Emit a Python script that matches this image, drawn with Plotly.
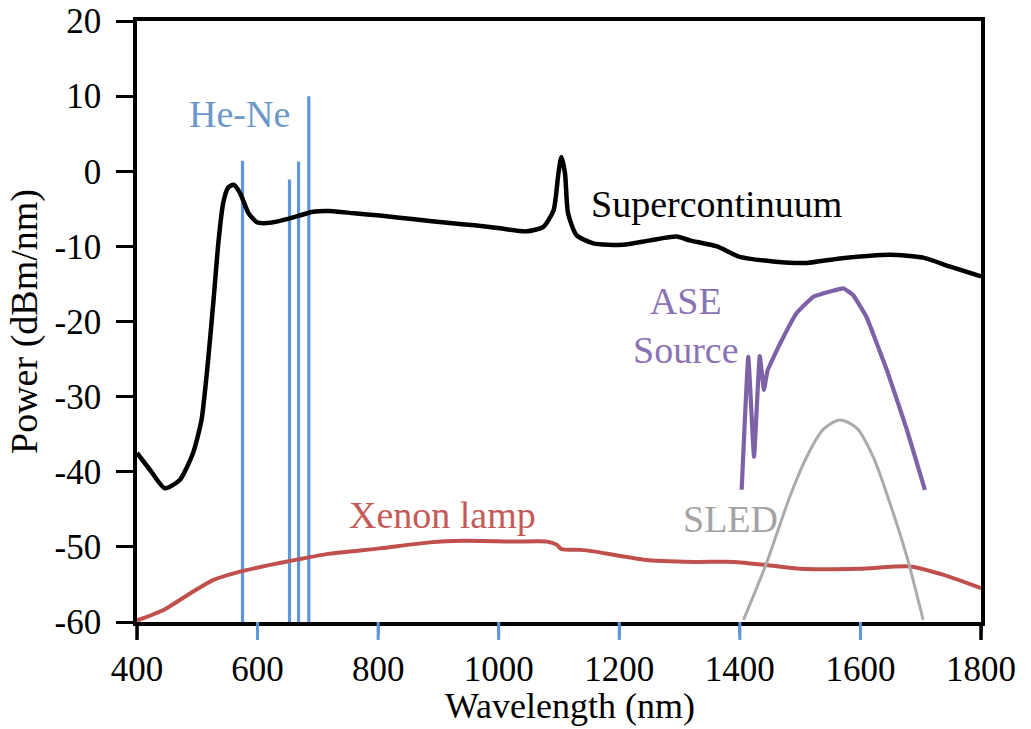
import plotly.graph_objects as go

# ---------------- data ----------------
sc_wl = [400, 422, 446, 471, 493, 507, 518, 527, 535, 543, 551, 560, 571, 585, 599, 615, 637, 665, 692, 720,
         760, 803, 860, 919, 960, 1002, 1046, 1074, 1091, 1099, 1104, 1110, 1115, 1129, 1157, 1206, 1251, 1295,
         1317, 1362, 1400, 1455, 1511, 1566, 1649, 1704, 1749, 1800]
sc_pw = [-37.5, -39.8, -42.2, -41.1, -37.5, -33.1, -25.1, -17.1, -9.5, -4.2, -2.2, -1.8, -2.9, -5.6, -6.8, -6.9,
         -6.6, -6.0, -5.4, -5.3, -5.6, -5.9, -6.4, -6.9, -7.2, -7.6, -8.0, -7.4, -5.2, -0.3, 1.9, -0.3, -5.6,
         -8.5, -9.6, -9.8, -9.2, -8.7, -9.2, -10.0, -11.4, -12.0, -12.2, -11.6, -11.1, -11.5, -12.7, -14.0]

xe_wl = [400, 444, 488, 527, 571, 621, 665, 720, 803, 886, 941, 1024, 1080, 1096, 1104, 1135, 1157, 1240,
         1323, 1389, 1444, 1500, 1599, 1682, 1737, 1800]
xe_pw = [-59.8, -58.4, -56.2, -54.4, -53.3, -52.4, -51.7, -50.9, -50.2, -49.4, -49.2, -49.3, -49.3, -49.7,
         -50.3, -50.4, -50.6, -51.7, -52.0, -52.0, -52.4, -52.9, -52.9, -52.6, -53.7, -55.5]

ase_wl = [1403, 1414, 1423.5, 1433, 1440, 1443, 1446, 1467, 1494, 1522, 1550, 1572, 1588, 1610, 1644, 1677, 1707]
ase_pw = [-42.4, -24.7, -38.0, -24.6, -29.1, -27.8, -26.5, -22.9, -18.9, -16.7, -16.0, -15.6, -16.5, -19.4,
          -26.5, -34.4, -42.4]

sled_wl = [1406, 1444, 1483, 1511, 1538, 1566, 1594, 1621, 1649, 1677, 1704]
sled_pw = [-59.7, -52.2, -43.3, -38.0, -34.4, -33.1, -34.2, -38.0, -44.2, -51.3, -59.7]

hene_wl = [575, 653, 668, 685]
hene_pw = [1.4, -1.1, 1.3, 10.0]
floor_pw = -60

x_ticks = [400, 600, 800, 1000, 1200, 1400, 1600, 1800]
y_ticks = [20, 10, 0, -10, -20, -30, -40, -50, -60]

# ---------------- styles ----------------
FONT = "Liberation Serif, Times New Roman, DejaVu Serif, serif"
BLUE = "#5f96dc"
BLUE_TXT = "#6c97c9"
RED = "#c0504d"
PURPLE = "#7e62a8"
PURPLE_TXT = "#8a73b5"
GRAY = "#ababab"
GRAY_TXT = "#a3a3a3"

TICK_FS = 35
ANN_FS = 38
TITLE_FS = 38
XTITLE_FS = 36
TICK_PAPER_LEN = 0.03  # x tick length (18 px) as fraction of plot height

fig = go.Figure()

# He-Ne lines
for wl, pw in zip(hene_wl, hene_pw):
    fig.add_trace(go.Scatter(x=[wl, wl], y=[floor_pw, pw], mode="lines",
                             line=dict(color=BLUE, width=3.2), showlegend=False, hoverinfo="skip"))

fig.add_trace(go.Scatter(x=xe_wl, y=xe_pw, mode="lines", line=dict(color=RED, width=4, shape="spline", smoothing=0.6),
                         showlegend=False))
fig.add_trace(go.Scatter(x=sled_wl, y=sled_pw, mode="lines", line=dict(color=GRAY, width=3, shape="spline", smoothing=0.8),
                         showlegend=False))
fig.add_trace(go.Scatter(x=ase_wl, y=ase_pw, mode="lines", line=dict(color=PURPLE, width=4.2, shape="spline", smoothing=0.3),
                         showlegend=False))
fig.add_trace(go.Scatter(x=sc_wl, y=sc_pw, mode="lines", line=dict(color="black", width=4.5, shape="spline", smoothing=0.6),
                         showlegend=False))

# labels
fig.add_annotation(x=570, y=7.6, text="He-Ne", showarrow=False, font=dict(family=FONT, size=ANN_FS, color=BLUE_TXT))
fig.add_annotation(x=1150, y=-4.4, text="Supercontinuum", showarrow=False, xanchor="left",
                   font=dict(family=FONT, size=ANN_FS, color="black"))
fig.add_annotation(x=1310, y=-20.5, text="ASE<br>Source", showarrow=False, align="center",
                   font=dict(family=FONT, size=ANN_FS, color=PURPLE_TXT))
fig.add_annotation(x=906, y=-45.7, text="Xenon lamp", showarrow=False,
                   font=dict(family=FONT, size=ANN_FS, color="#c55b58"))
fig.add_annotation(x=1385, y=-46.3, text="SLED", showarrow=False,
                   font=dict(family=FONT, size=ANN_FS, color=GRAY_TXT))

# x-axis title (placed as paper annotation for precise spacing)
fig.add_annotation(xref="paper", yref="paper", x=0.513, y=-0.1747, yanchor="bottom", borderpad=0,
                   text="Wavelength (nm)", showarrow=False, font=dict(family=FONT, size=XTITLE_FS, color="black"))

# x tick marks: blue inner ticks, black at the frame ends (drawn in paper x so they are not clipped)
for t in x_ticks:
    if t in (x_ticks[0], x_ticks[-1]):
        xp = 0 if t == x_ticks[0] else 1
        fig.add_shape(type="line", xref="paper", yref="paper", x0=xp, x1=xp, y0=0, y1=-TICK_PAPER_LEN,
                      line=dict(color="black", width=3.5))
    else:
        fig.add_shape(type="line", xref="x", yref="paper", x0=t, x1=t, y0=0, y1=-TICK_PAPER_LEN,
                      line=dict(color=BLUE, width=3))

fig.update_layout(
    width=1031, height=729,
    margin=dict(l=137, r=50, t=21, b=107, autoexpand=False),
    plot_bgcolor="white", paper_bgcolor="white",
    font=dict(family=FONT, size=TICK_FS, color="black"),
    xaxis=dict(range=[400, 1800], tickvals=x_ticks, ticktext=[str(v) for v in x_ticks],
               ticks="outside", ticklen=9, tickwidth=3, tickcolor=BLUE,
               showline=True, linecolor="black", linewidth=3.5, mirror=True,
               showgrid=False, zeroline=False, automargin=False, ticklabelstandoff=4,
               tickfont=dict(family=FONT, size=TICK_FS)),
    yaxis=dict(range=[-60, 20], tickvals=y_ticks, ticktext=[str(v) for v in y_ticks],
               ticks="outside", ticklen=17, tickwidth=3, tickcolor="black",
               showline=True, linecolor="black", linewidth=3.5, mirror=True,
               showgrid=False, zeroline=False, automargin=False, ticklabelstandoff=8,
               title=dict(text="Power (dBm/nm)", font=dict(family=FONT, size=TITLE_FS), standoff=6),
               tickfont=dict(family=FONT, size=TICK_FS)),
)

fig.write_html("out.html")
